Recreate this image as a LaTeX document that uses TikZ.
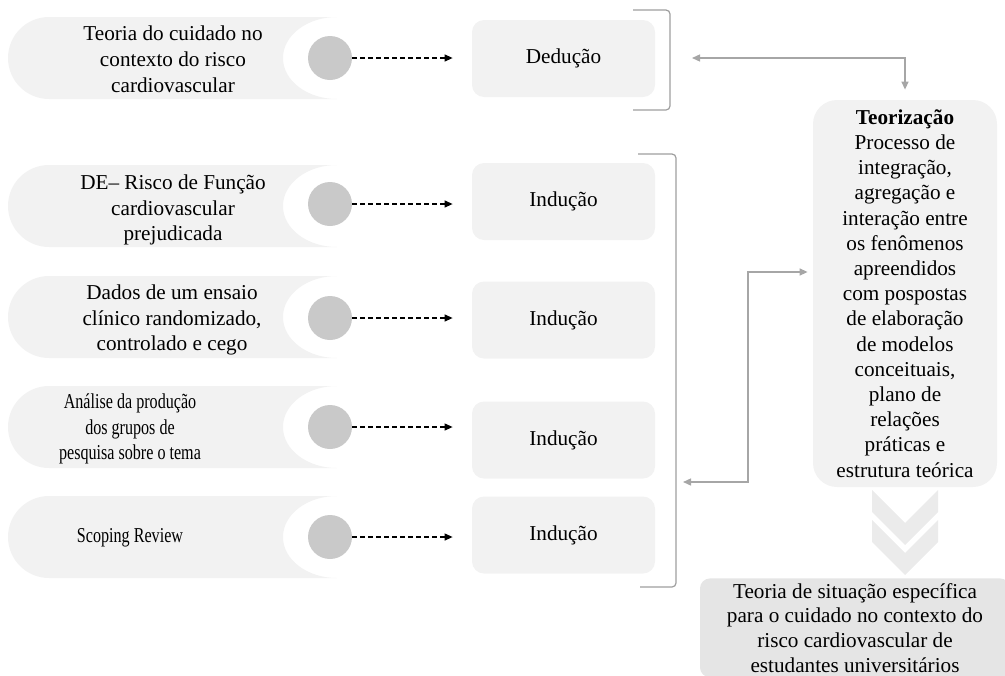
\documentclass[tikz,border=0pt]{standalone}
\usepackage{fontspec}
\setmainfont{Liberation Serif}
\newfontfamily\condserif[FakeStretch=0.76]{Liberation Serif}
\usetikzlibrary{arrows.meta}
\definecolor{pillgray}{HTML}{F2F2F2}
\definecolor{boxgray}{HTML}{F2F2F2}
\definecolor{hubgray}{HTML}{C9C9C9}
\definecolor{linkgray}{HTML}{A6A6A6}
\definecolor{bracketgray}{HTML}{9E9E9E}
\definecolor{chevgray}{HTML}{EBEBEB}
\definecolor{resultgray}{HTML}{E5E5E5}

\begin{document}
\begin{tikzpicture}[x=0.5pt, y=-0.5pt,
        srctext/.style={align=center, inner sep=0pt, font=\fontsize{10.6}{12.9}\selectfont},
        hubdot/.style={circle, fill=hubgray, minimum size=22pt, inner sep=0pt},
        stagebox/.style={rectangle, rounded corners=6pt, fill=boxgray, minimum width=91.5pt, minimum height=38.5pt, inner sep=0pt, font=\fontsize{10.6}{12.9}\selectfont},
        theorybox/.style={rectangle, rounded corners=12pt, fill=boxgray, minimum width=92pt, minimum height=193.5pt, inner sep=0pt, align=center, font=\fontsize{10.6}{12.6}\selectfont},
        resultbox/.style={rectangle, rounded corners=5pt, fill=resultgray, minimum width=155pt, inner xsep=4pt, inner ysep=2.5pt, align=center, font=\fontsize{10.6}{12.3}\selectfont},
        dashlink/.style={-{Triangle[length=4pt,width=3.5pt]}, dash pattern=on 2.5pt off 1.5pt, line width=0.6pt, shorten >=9.5pt},
        link/.style={{Triangle[length=4pt,width=3.5pt]}-{Triangle[length=4pt,width=3.5pt]}, draw=linkgray, line width=0.7pt},
        bracket/.style={draw=bracketgray, line width=0.6pt, rounded corners=2pt},
        pill/.pic={\fill[pillgray] (0,-41) -- (-288,-41) arc[start angle=270, end angle=90, radius=41] -- (0,41) arc[start angle=90, end angle=270, x radius=54, y radius=41] -- cycle;},
    ]
    \useasboundingbox (0,0) rectangle (1005,675);

    % sources
    \pic at (337,58) {pill};
    \pic at (337,206) {pill};
    \pic at (337,317) {pill};
    \pic at (337,427) {pill};
    \pic at (337,537) {pill};

    \node[srctext] (src_1) at (173,59) {Teoria do cuidado no\\contexto do risco\\cardiovascular};
    \node[srctext] (src_2) at (173,210) {DE– Risco de Função\\cardiovascular\\prejudicada};
    \node[srctext] (src_3) at (172,320) {Dados de um ensaio\\clínico randomizado,\\controlado e cego};
    \node[srctext, font=\condserif\fontsize{10.6}{12.9}\selectfont] (src_4) at (130,429) {Análise da produção\\dos grupos de\\pesquisa sobre o tema};
    \node[srctext, font=\condserif\fontsize{10.6}{12.9}\selectfont] (src_5) at (130,538) {Scoping Review};

    \node[hubdot] (hub_1) at (330,58) {};
    \node[hubdot] (hub_2) at (330,204) {};
    \node[hubdot] (hub_3) at (330,318) {};
    \node[hubdot] (hub_4) at (330,427) {};
    \node[hubdot] (hub_5) at (330,537) {};

    % reasoning steps
    \node[stagebox] (ded) at (563.5,58.5) {Dedução};
    \node[stagebox] (ind_2) at (563.5,201.5) {Indução};
    \node[stagebox] (ind_3) at (563.5,320) {Indução};
    \node[stagebox] (ind_4) at (563.5,440) {Indução};
    \node[stagebox] (ind_5) at (563.5,535) {Indução};

    \draw[dashlink] (hub_1) -- (hub_1 -| ded.west);
    \draw[dashlink] (hub_2) -- (hub_2 -| ind_2.west);
    \draw[dashlink] (hub_3) -- (hub_3 -| ind_3.west);
    \draw[dashlink] (hub_4) -- (hub_4 -| ind_4.west);
    \draw[dashlink] (hub_5) -- (hub_5 -| ind_5.west);

    % brackets
    \draw[bracket] (633,10) -- (670,10) -- (670,110) -- (633,110);
    \draw[bracket] (638,154) -- (676,154) -- (676,587) -- (640,587);

    % theorization
    \node[theorybox] (teor) at (905,293.5) {\textbf{Teorização}\\Processo de\\integração,\\agregação e\\interação entre\\os fenômenos\\apreendidos\\com pospostas\\de elaboração\\de modelos\\conceituais,\\plano de\\relações\\práticas e\\estrutura teórica};

    \coordinate (ded_end) at (692,58);
    \coordinate (ind_end) at (683,482);
    \draw[link] (ded_end) -| ([yshift=5pt]teor.north);
    \draw[link] (ind_end) -- ++(65,0) |- ([xshift=-2.5pt,yshift=10.75pt]teor.west);

    % chevrons
    \fill[chevgray] (872,490) -- (905,523) -- (938,490) -- (938,512) -- (905,545) -- (872,512) -- cycle;
    \fill[chevgray] (872,520) -- (905,553) -- (938,520) -- (938,542) -- (905,575) -- (872,542) -- cycle;

    % result
    \begin{scope}
        \clip (0,0) rectangle (1005,675);
        \node[resultbox, anchor=north] (result) at (855,578) {Teoria de situação específica\\para o cuidado no contexto do\\risco cardiovascular de\\estudantes universitários};
    \end{scope}

    \end{tikzpicture}
\end{document}
